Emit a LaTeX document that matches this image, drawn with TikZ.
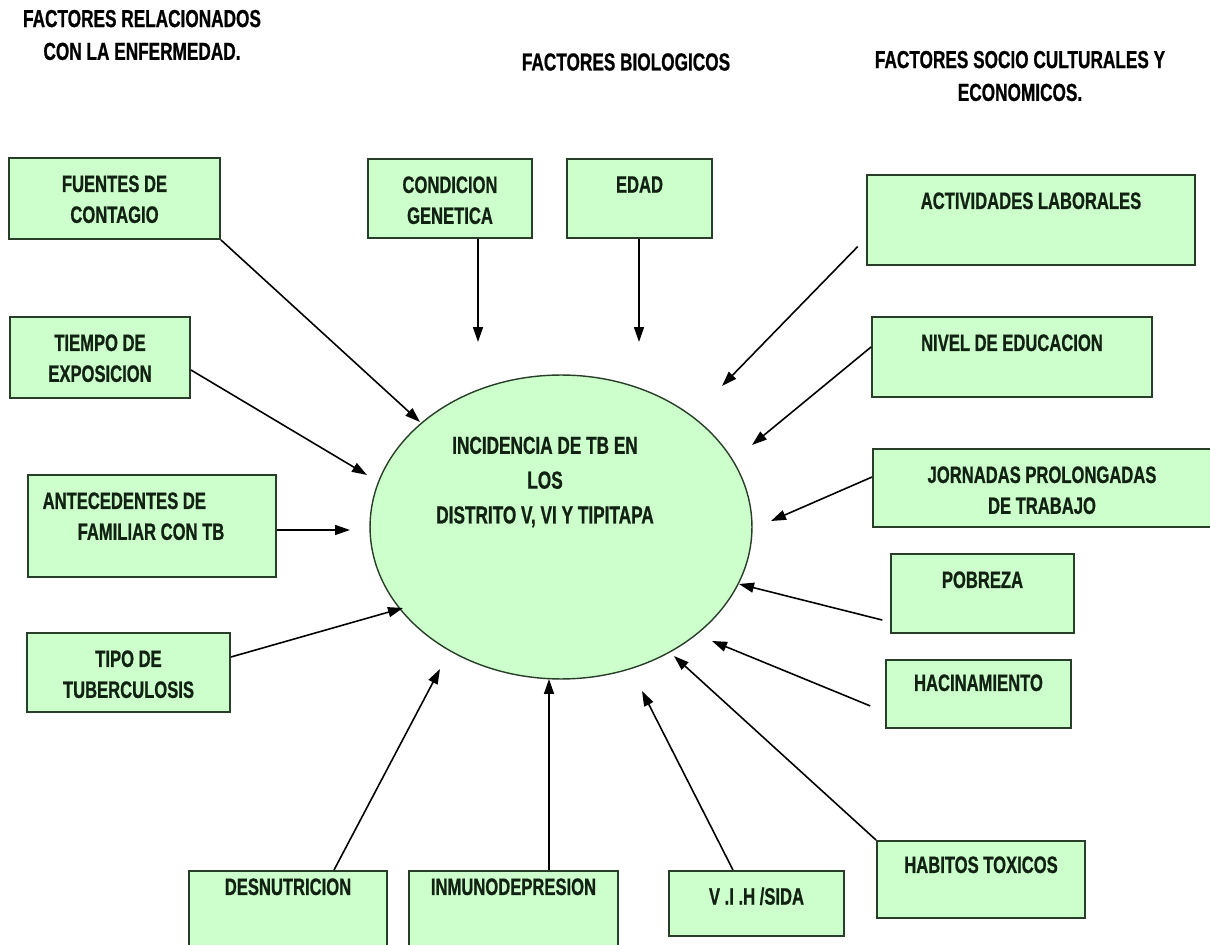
\documentclass[tikz,border=0pt]{standalone}
\usepackage{fontspec}
\setmainfont[FakeStretch=0.70, BoldFeatures={FakeBold=0.8}]{Liberation Sans}
\usetikzlibrary{arrows.meta,shapes.geometric}

\definecolor{boxgreen}{RGB}{204,255,204}
\definecolor{boxline}{RGB}{40,62,40}
\definecolor{txtdark}{RGB}{18,34,18}

\tikzset{
  factor/.style={draw=boxline, line width=1.1pt, fill=boxgreen, inner sep=0pt},
  factortxt/.style={anchor=north, inner sep=0pt, yshift=-0.36cm, align=center,
    text=txtdark, font=\bfseries\fontsize{13.5}{17.6}\selectfont},
  inctxt/.style={anchor=north, inner sep=0pt, yshift=-1.24cm, xshift=-0.32cm, align=center,
    text=txtdark, font=\bfseries\fontsize{14}{19.8}\selectfont},
  header/.style={align=center, font=\bfseries\fontsize{14}{18.7}\selectfont},
  arr/.style={line width=0.9pt, -{Triangle[length=3mm,width=2mm]}},
}

\begin{document}
\begin{tikzpicture}[x=0.02cm, y=-0.02cm]
    \useasboundingbox (0,0) rectangle (1210,945);
    \fill[white] (0,0) rectangle (1210,945);

    % Titles of the three groups
    \node[header] (hdrdis) at (142,35) {FACTORES RELACIONADOS\\CON LA ENFERMEDAD.};
    \node[header] (hdrbio) at (626,62) {FACTORES BIOLOGICOS};
    \node[header] (hdrsoc) at (1020,76) {FACTORES SOCIO CULTURALES Y\\ECONOMICOS.};

    % Central ellipse
    \node[ellipse, draw=boxline, line width=0.8pt, fill=boxgreen, inner sep=0pt,
          minimum width=7.64cm, minimum height=6.08cm,
          label={[inctxt]90:{INCIDENCIA DE TB EN\\LOS\\DISTRITO V, VI Y TIPITAPA}}] (incid) at (561,527) {};

    % Left column
    \node[factor, minimum width=4.22cm, minimum height=1.62cm,
          label={[factortxt]90:{FUENTES DE\\CONTAGIO}}] (fuentes) at (114.5,198.5) {};
    \node[factor, minimum width=3.6cm, minimum height=1.62cm,
          label={[factortxt]90:{TIEMPO DE\\EXPOSICION}}] (tiempo) at (100,357.5) {};
    \node[factor, minimum width=4.96cm, minimum height=2.04cm,
          label={[factortxt, align=left, xshift=-0.37cm]90:{ANTECEDENTES DE\\\hspace*{0.7cm}FAMILIAR CON TB}}] (antec) at (152,526) {};
    \node[factor, minimum width=4.06cm, minimum height=1.58cm,
          label={[factortxt]90:{TIPO DE\\TUBERCULOSIS}}] (tipo) at (128.5,672.5) {};

    % Top row
    \node[factor, minimum width=3.28cm, minimum height=1.58cm,
          label={[factortxt]90:{CONDICION\\GENETICA}}] (cond) at (450,198.5) {};
    \node[factor, minimum width=2.9cm, minimum height=1.58cm,
          label={[factortxt]90:EDAD}] (edad) at (639.5,198.5) {};

    % Right column
    \node[factor, minimum width=6.56cm, minimum height=1.8cm,
          label={[factortxt]90:ACTIVIDADES LABORALES}] (activ) at (1031,220) {};
    \node[factor, minimum width=5.6cm, minimum height=1.6cm,
          label={[factortxt]90:NIVEL DE EDUCACION}] (nivel) at (1012,357) {};
    \node[factor, minimum width=6.76cm, minimum height=1.56cm,
          label={[factortxt]90:{JORNADAS PROLONGADAS\\DE TRABAJO}}] (jorn) at (1042,488) {};
    \node[factor, minimum width=3.66cm, minimum height=1.58cm,
          label={[factortxt]90:POBREZA}] (pobreza) at (982.5,593.5) {};
    \node[factor, minimum width=3.7cm, minimum height=1.36cm,
          label={[factortxt, yshift=0.06cm]90:HACINAMIENTO}] (hacin) at (978.5,694) {};
    \node[factor, minimum width=4.16cm, minimum height=1.54cm,
          label={[factortxt, yshift=0.04cm]90:HABITOS TOXICOS}] (habitos) at (981,879.5) {};

    % Bottom row
    \node[factor, minimum width=3.96cm, minimum height=1.78cm,
          label={[factortxt, yshift=0.2cm]90:DESNUTRICION}] (desnut) at (288,915.5) {};
    \node[factor, minimum width=4.18cm, minimum height=1.78cm,
          label={[factortxt, yshift=0.2cm]90:INMUNODEPRESION}] (inmuno) at (513.5,915.5) {};
    \node[factor, minimum width=3.5cm, minimum height=1.3cm,
          label={[factortxt, yshift=0.02cm]90:V .I .H /SIDA}] (vih) at (756.5,903.5) {};

    % Arrow tips near the ellipse
    \coordinate (tfuentes) at (420,422);
    \coordinate (ttiempo) at (367,475);
    \coordinate (tantec) at (350,530);
    \coordinate (ttipo) at (403,608);
    \coordinate (tcond) at (478,342);
    \coordinate (tedad) at (639,342);
    \coordinate (tactiv) at (722,386);
    \coordinate (tnivel) at (752,445);
    \coordinate (tjorn) at (771,521);
    \coordinate (tpobreza) at (739,584);
    \coordinate (thacin) at (712,641);
    \coordinate (thabitos) at (674,656);
    \coordinate (tvih) at (642,691);
    \coordinate (tinmuno) at (549,679);
    \coordinate (tdesnut) at (440,669);

    % Arrows
    \draw[arr] (fuentes.south east) -- (tfuentes);
    \draw[arr] ([yshift=-0.25cm]tiempo.east) -- (ttiempo);
    \draw[arr] (antec.east |- tantec) -- (tantec);
    \draw[arr] ([yshift=0.31cm]tipo.east) -- (ttipo);
    \draw[arr] (cond.south -| tcond) -- (tcond);
    \draw[arr] (edad.south -| tedad) -- (tedad);
    \draw[arr, shorten <=0.24cm] ([yshift=-0.36cm]activ.west) -- (tactiv);
    \draw[arr] ([yshift=0.2cm]nivel.west) -- (tnivel);
    \draw[arr] ([yshift=0.22cm]jorn.west) -- (tjorn);
    \draw[arr, shorten <=0.16cm] ([yshift=-0.57cm]pobreza.west) -- (tpobreza);
    \draw[arr, shorten <=0.32cm] ([yshift=-0.36cm]hacin.west) -- (thacin);
    \draw[arr] (habitos.north west) -- (thabitos);
    \draw[arr] ([xshift=-0.47cm]vih.north) -- (tvih);
    \draw[arr] (inmuno.north -| tinmuno) -- (tinmuno);
    \draw[arr] ([xshift=0.92cm]desnut.north) -- (tdesnut);
\end{tikzpicture}
\end{document}
